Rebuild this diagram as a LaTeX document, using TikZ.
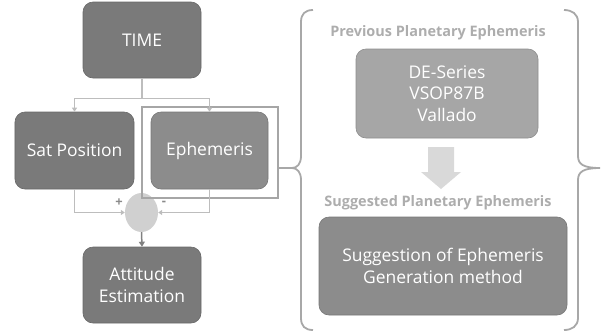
\documentclass[tikz,border=0pt]{standalone}
\usepackage{fontspec}
\setmainfont{Open Sans}
\usetikzlibrary{arrows.meta,positioning,shapes.geometric}
\definecolor{boxdark}{HTML}{7A7A7A}
\definecolor{boxmid}{HTML}{8C8C8C}
\definecolor{boxlight}{HTML}{A6A6A6}
\definecolor{linegray}{HTML}{BDBDBD}
\definecolor{bracegray}{HTML}{A8A8A8}
\definecolor{headgray}{HTML}{ADADAD}
\definecolor{sumgray}{HTML}{D0D0D0}
\definecolor{arrowgray}{HTML}{D9D9D9}
\definecolor{signgray}{HTML}{8A8A8A}
\begin{document}
\begin{tikzpicture}[x=1bp,y=-1bp,
  box/.style={rectangle, rounded corners=10bp, draw=#1!85!black, fill=#1, line width=0.6bp,
    text=white, align=center, font=\fontsize{17.5}{21.5}\selectfont, inner sep=0pt},
  conn/.style={draw=linegray, line width=1.2bp, -{Triangle[width=5bp,length=4bp]}},
  heading/.style={text=headgray, font=\fontsize{14.5}{17}\selectfont\bfseries},
  sign/.style={text=signgray, font=\fontsize{13}{13}\selectfont\bfseries, inner sep=0pt}]
\useasboundingbox (0,0) rectangle (602,333);
% left part
\node[box=boxdark, minimum width=118bp, minimum height=76bp] (time) at (142,40) {TIME};
\node[box=boxdark, minimum width=119bp, minimum height=77bp] (sat) at (74.5,150.5) {Sat Position};
\node[box=boxmid, minimum width=117bp, minimum height=77bp] (eph) at (209.5,150.5) {Ephemeris};
\node[box=boxdark, minimum width=118bp, minimum height=76bp] (att) at (142,285) {Attitude\\Estimation};
\node[ellipse, fill=sumgray, minimum width=33bp, minimum height=39bp, inner sep=0pt] (sum) at (141.5,212.5) {};
\node[draw=boxlight, line width=2.4bp, minimum width=136bp, minimum height=91bp, inner sep=0pt] (hl) at (210,152.5) {};
\draw[conn] (time.south) -- ++(0,20) -| (sat.north);
\draw[conn] (time.south) -- ++(0,20) -| (eph.north);
\draw[conn] (sat.south) |- (sum.west);
\draw[conn] (eph.south) |- (sum.east);
\draw[draw=gray, line width=1.5bp, -{Triangle[width=6bp,length=5bp]}] (sum.south) -- (att.north);
\node[sign] (plus) at (119,203) {+};
\node[sign] (minus) at (164,203) {-};
% left brace
\coordinate (ltip) at (292,168);
\draw[bracegray, line width=1.8bp] (hl.east |- ltip) -- (ltip);
\draw[bracegray, line width=1.8bp] (313,10) .. controls (305,10) and (301,14) .. (301,22) -- (301,156)
  .. controls (301,164) and (297,168) .. (ltip) .. controls (297,168) and (301,172) .. (301,180)
  -- (301,318) .. controls (301,326) and (305,330) .. (313,330);
% right brace
\coordinate (rtip) at (600,168);
\draw[bracegray, line width=1.8bp] (564,10) .. controls (572,10) and (578,14) .. (578,22) -- (578,156)
  .. controls (578,164) and (583,168) .. (rtip) .. controls (583,168) and (578,172) .. (578,180)
  -- (578,318) .. controls (578,326) and (572,330) .. (564,330);
% right part
\node[heading] (prevh) at (438,33) {Previous Planetary Ephemeris};
\node[box=boxlight, minimum width=182bp, minimum height=89bp] (prev) at (447,93.5) {DE-Series\\VSOP87B\\Vallado};
\node[heading] (sugh) at (438,203) {Suggested Planetary Ephemeris};
\node[box=boxmid, minimum width=248bp, minimum height=98bp] (sug) at (443,266) {Suggestion of Ephemeris\\Generation method};
\fill[arrowgray] (428,147) -- (454,147) -- (454,172) -- (461,172) -- (441,189) -- (421,172) -- (428,172) -- cycle;
\end{tikzpicture}
\end{document}
